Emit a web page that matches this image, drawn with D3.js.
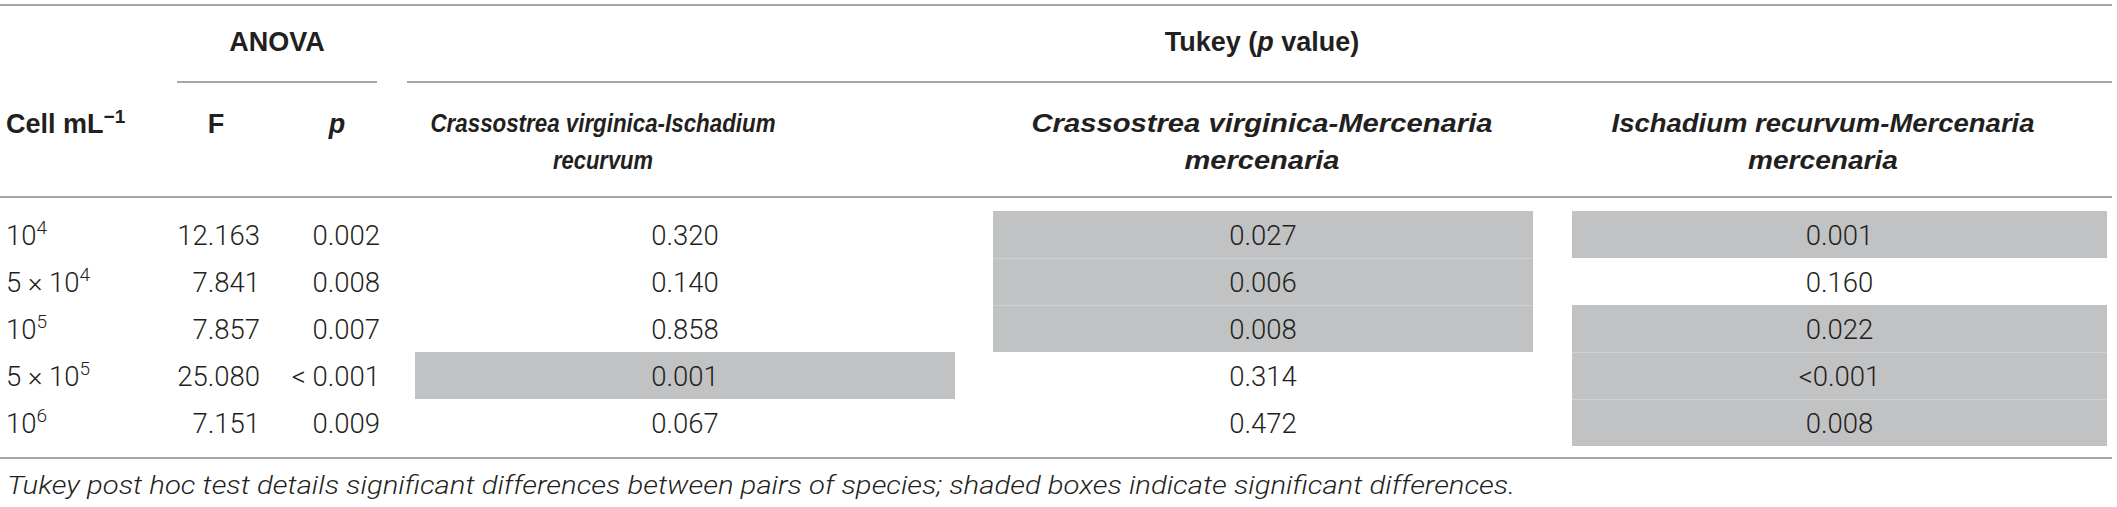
<!DOCTYPE html>
<html>
<head>
<meta charset="utf-8">
<script src="https://cdn.jsdelivr.net/npm/d3@7"></script>
<style>
  html, body { margin: 0; padding: 0; background: #fff; }
  svg { display: block; }
  .bold { font-family: "Liberation Sans", Arial, sans-serif; font-weight: 700; fill: #231f20; }
  .num { font-family: Roboto, "Liberation Sans", sans-serif; font-weight: 300; fill: #231f20; }
  .note { font-family: Roboto, "Liberation Sans", sans-serif; font-weight: 300; font-style: italic; fill: #231f20; }
</style>
</head>
<body>
<svg id="chart" width="2117" height="507"></svg>
<script>
// ---------------- data ----------------
const cellDensity = [
  { coef: null, base: "10", exp: "4" },
  { coef: "5", base: "10", exp: "4" },
  { coef: null, base: "10", exp: "5" },
  { coef: "5", base: "10", exp: "5" },
  { coef: null, base: "10", exp: "6" }
];
const rowKeys = ["1e4", "5e4", "1e5", "5e5", "1e6"];
const anovaF = ["12.163", "7.841", "7.857", "25.080", "7.151"];
const anovaP = ["0.002", "0.008", "0.007", "< 0.001", "0.009"];
const tukeyCvIr = ["0.320", "0.140", "0.858", "0.001", "0.067"];
const tukeyCvMm = ["0.027", "0.006", "0.008", "0.314", "0.472"];
const tukeyIrMm = ["0.001", "0.160", "0.022", "<0.001", "0.008"];
const sigCvIr = [false, false, false, true, false];
const sigCvMm = [true, true, true, false, false];
const sigIrMm = [true, false, true, true, true];
const pairHeaders = [
  ["Crassostrea virginica-Ischadium", "recurvum"],
  ["Crassostrea virginica-Mercenaria", "mercenaria"],
  ["Ischadium recurvum-Mercenaria", "mercenaria"]
];
const footnote = "Tukey post hoc test details significant differences between pairs of species; shaded boxes indicate significant differences.";

// ---------------- layout ----------------
const svg = d3.select("#chart");
const ink = "#231f20";
const rule = "#8a8a8a";
const shade = "#c1c2c4";

const y = d3.scaleBand().domain(rowKeys).range([211, 446]).padding(0);

const tukeyCols = [
  { vals: tukeyCvIr, sig: sigCvIr, x0: 415, x1: 955, hc: 603, hw: [345, 100] },
  { vals: tukeyCvMm, sig: sigCvMm, x0: 993, x1: 1533, hc: 1262, hw: [461, 155] },
  { vals: tukeyIrMm, sig: sigIrMm, x0: 1572, x1: 2107, hc: 1823, hw: [423, 150] }
];

// rules
function hline(x0, x1, yy, w) {
  svg.append("line").attr("x1", x0).attr("x2", x1).attr("y1", yy).attr("y2", yy)
    .attr("stroke", rule).attr("stroke-width", w || 1.6);
}
hline(0, 2112, 5);
hline(177, 377, 82);
hline(407, 2112, 82);
hline(0, 2112, 197);
hline(0, 2112, 458);

// shaded cells
tukeyCols.forEach(col => {
  svg.append("g").selectAll("rect")
    .data(rowKeys.map((k, i) => ({ k, s: col.sig[i] })).filter(d => d.s))
    .join("rect")
    .attr("x", col.x0)
    .attr("width", col.x1 - col.x0)
    .attr("y", d => y(d.k))
    .attr("height", y.bandwidth())
    .attr("fill", shade);
  // faint separators between stacked shaded cells
  svg.append("g").selectAll("line")
    .data(rowKeys.map((k, i) => ({ k, s: col.sig[i] && i > 0 && col.sig[i - 1] })).filter(d => d.s))
    .join("line")
    .attr("x1", col.x0).attr("x2", col.x1)
    .attr("y1", d => y(d.k) + 0.5).attr("y2", d => y(d.k) + 0.5)
    .attr("stroke", "#cfd0d2").attr("stroke-width", 1);
});

// headers
svg.append("text").attr("class", "bold").attr("x", 277).attr("y", 42)
  .attr("text-anchor", "middle").attr("dominant-baseline", "central")
  .attr("font-size", 27).text("ANOVA");

const tk = svg.append("text").attr("class", "bold").attr("x", 1262).attr("y", 42)
  .attr("text-anchor", "middle").attr("dominant-baseline", "central")
  .attr("font-size", 27);
tk.append("tspan").text("Tukey (");
tk.append("tspan").attr("font-style", "italic").text("p");
tk.append("tspan").text(" value)");

const cm = svg.append("text").attr("class", "bold").attr("x", 6).attr("y", 133)
  .attr("font-size", 27);
cm.append("tspan").text("Cell mL");
cm.append("tspan").attr("dy", -10).attr("font-size", 19).text("\u22121");

svg.append("text").attr("class", "bold").attr("x", 216).attr("y", 133)
  .attr("text-anchor", "middle").attr("font-size", 27).text("F");
svg.append("text").attr("class", "bold").attr("x", 337).attr("y", 133)
  .attr("text-anchor", "middle").attr("font-size", 27).attr("font-style", "italic").text("p");

tukeyCols.forEach((col, ci) => {
  pairHeaders[ci].forEach((line, li) => {
    svg.append("text").attr("class", "bold")
      .attr("x", col.hc).attr("y", li === 0 ? 123 : 160)
      .attr("text-anchor", "middle").attr("dominant-baseline", "central")
      .attr("font-size", 25).attr("font-style", "italic")
      .attr("textLength", col.hw[li]).attr("lengthAdjust", "spacingAndGlyphs")
      .text(line);
  });
});

// body: first column
const mid = k => y(k) + y.bandwidth() / 2;
const first = svg.append("g").selectAll("text")
  .data(cellDensity.map((d, i) => ({ ...d, k: rowKeys[i] })))
  .join("text")
  .attr("class", "num")
  .attr("x", 6)
  .attr("y", d => mid(d.k) + 10)
  .attr("font-size", 27.5);
first.each(function (d) {
  const t = d3.select(this);
  if (d.coef) t.append("tspan").text(d.coef + " \u00d7 ");
  t.append("tspan").text(d.base);
  t.append("tspan").attr("dy", -11).attr("font-size", 19).text(d.exp);
});

// ANOVA columns
svg.append("g").selectAll("text").data(anovaF.map((v, i) => ({ v, k: rowKeys[i] })))
  .join("text").attr("class", "num")
  .attr("x", 260).attr("y", d => mid(d.k) + 10)
  .attr("text-anchor", "end").attr("font-size", 27.5).text(d => d.v);

svg.append("g").selectAll("text").data(anovaP.map((v, i) => ({ v, k: rowKeys[i] })))
  .join("text").attr("class", "num")
  .attr("x", 380).attr("y", d => mid(d.k) + 10)
  .attr("text-anchor", "end").attr("font-size", 27.5).text(d => d.v);

// Tukey columns
tukeyCols.forEach(col => {
  svg.append("g").selectAll("text").data(col.vals.map((v, i) => ({ v, k: rowKeys[i] })))
    .join("text").attr("class", "num")
    .attr("x", (col.x0 + col.x1) / 2).attr("y", d => mid(d.k) + 10)
    .attr("text-anchor", "middle").attr("font-size", 27.5).text(d => d.v);
});

// footnote
svg.append("text").attr("class", "note")
  .attr("x", 7).attr("y", 494)
  .attr("font-size", 26.5)
  .attr("textLength", 1508).attr("lengthAdjust", "spacingAndGlyphs")
  .text(footnote);
</script>
</body>
</html>
